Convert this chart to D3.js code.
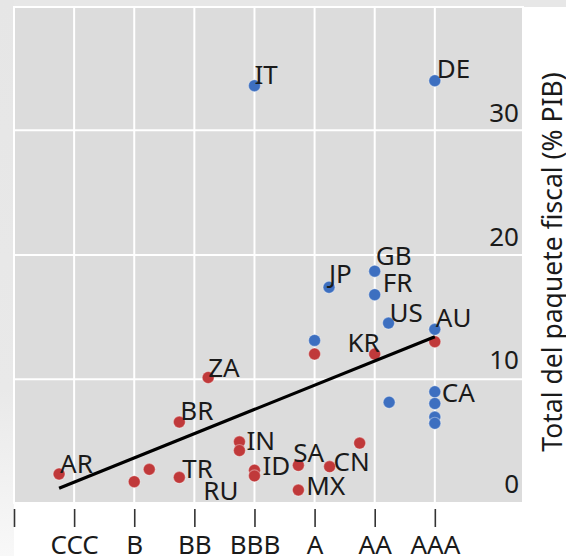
<!DOCTYPE html>
<html>
<head>
<meta charset="utf-8">
<script src="https://cdn.jsdelivr.net/npm/d3@7"></script>
<style>
  body { margin: 0; background: #fff; }
  svg { display: block; }
</style>
</head>
<body>
<svg id="chart"></svg>
<script>
// rating categories (index 0 is the unlabelled tick at the panel edge)
const ratings = ['', 'CCC', 'B', 'BB', 'BBB', 'A', 'AA', 'AAA'];
const yTicks = [0, 10, 20, 30];
const yGrid = [9.35, 19.4, 29.5];

// advanced economies (blue)
const advCodes  = ['IT', 'DE', 'JP', 'GB', 'FR', 'US', 'AU', '', '', 'CA', '', '', ''];
const advRating = [4.0, 7.0, 5.24, 6.0, 6.0, 6.23, 7.0, 5.0, 6.24, 7.0, 7.0, 7.0, 7.0];
const advFiscal = [33.1, 33.5, 16.8, 18.1, 16.2, 13.9, 13.4, 12.5, 7.5, 8.35, 7.4, 6.3, 5.8];

// emerging economies (red)
const emCodes  = ['AR', '', '', 'TR', 'BR', 'ZA', '', 'IN', 'ID', 'RU', 'SA', 'MX', 'CN', '', '', 'KR', ''];
const emRating = [0.75, 2.0, 2.25, 2.75, 2.75, 3.23, 3.75, 3.75, 4.0, 4.0, 4.73, 4.73, 5.25, 5.75, 5.0, 6.0, 7.0];
const emFiscal = [1.7, 1.08, 2.08, 1.43, 5.9, 9.5, 4.3, 3.6, 2.0, 1.55, 2.4, 0.4, 2.3, 4.2, 11.4, 11.4, 12.4];

// fitted line end points (rating, % PIB)
const fitRating = [0.75, 7.0];
const fitFiscal = [0.55, 12.8];

// label placement tweaks in px: [dx, dy, anchor]
const nudge = {
  IT: [0, -2], DE: [2, -3], JP: [0, -4], GB: [1, -6], FR: [8, -3], US: [1, -1],
  AU: [1, -2], CA: [7, 10], AR: [1, -1], TR: [3, 1], BR: [1, -2], ZA: [0, -1],
  IN: [7, 0], ID: [8, 5], RU: [-16, 24, 'end'], SA: [-5, -3], MX: [8, 5],
  CN: [4, 4], KR: [5, -2, 'end']
};

const W = 566, H = 556;
const P = { left: 14, top: 7, right: 523, bottom: 503 };
const BLUE = '#3d6fc0', RED = '#c0393a', INK = '#1a1a1a';
const FONT = '"Noto Sans", "Open Sans", sans-serif';

const svg = d3.select('#chart').attr('width', W).attr('height', H);

const x = d3.scaleLinear().domain([0, 8.5]).range([14, 525]);
const y = d3.scaleLinear().domain([0, 30]).range([495, 124]);

// outer backdrop
const defs = svg.append('defs');
const grad = defs.append('linearGradient').attr('id', 'fade').attr('x1', 0).attr('y1', 0).attr('x2', 0).attr('y2', 1);
grad.append('stop').attr('offset', '0%').attr('stop-color', '#e6e6e6');
grad.append('stop').attr('offset', '70%').attr('stop-color', '#e9e9e9');
grad.append('stop').attr('offset', '100%').attr('stop-color', '#f8f8f8');
svg.append('rect').attr('x', 0).attr('y', 0).attr('width', W).attr('height', P.top).attr('fill', '#e7e7e7');
svg.append('rect').attr('x', 0).attr('y', 0).attr('width', P.left).attr('height', H).attr('fill', 'url(#fade)');

// panel
svg.append('rect').attr('x', P.left).attr('y', P.top)
  .attr('width', P.right - P.left).attr('height', P.bottom - P.top)
  .attr('fill', '#dcdcdc').attr('stroke', '#fff').attr('stroke-width', 2);

const grid = svg.append('g').attr('stroke', '#fff').attr('stroke-width', 2);
grid.selectAll('line.v').data(d3.range(1, ratings.length)).join('line').attr('class', 'v')
  .attr('x1', d => x(d)).attr('x2', d => x(d)).attr('y1', P.top).attr('y2', P.bottom);
grid.selectAll('line.h').data(yGrid).join('line').attr('class', 'h')
  .attr('x1', P.left).attr('x2', P.right).attr('y1', d => y(d)).attr('y2', d => y(d));

// y tick labels sit inside the panel, right-aligned
svg.append('g').selectAll('text').data(yTicks).join('text')
  .attr('x', 519).attr('y', d => y(d) - 2).attr('text-anchor', 'end')
  .attr('font-family', FONT).attr('font-size', 26).attr('fill', INK).text(d => d);

// x axis
const xAxis = svg.append('g').attr('transform', `translate(0,${P.bottom})`)
  .call(d3.axisBottom(x).tickValues(d3.range(ratings.length)).tickFormat(i => ratings[i]).tickSize(0).tickPadding(33));
xAxis.select('.domain').remove();
xAxis.selectAll('text').attr('font-family', FONT).attr('font-size', 26).attr('fill', INK);
xAxis.selectAll('.tick').append('line').attr('y1', 6).attr('y2', 24)
  .attr('stroke', '#333').attr('stroke-width', 1.6);

// y title
svg.append('text').attr('transform', `translate(562,262) rotate(-90)`)
  .attr('text-anchor', 'middle').attr('font-family', FONT).attr('font-size', 26.5).attr('fill', INK)
  .text('Total del paquete fiscal (% PIB)');

const adv = advCodes.map((c, i) => ({ code: c, r: advRating[i], v: advFiscal[i], col: BLUE }));
const em = emCodes.map((c, i) => ({ code: c, r: emRating[i], v: emFiscal[i], col: RED }));
const all = em.concat(adv);

svg.append('g').selectAll('circle').data(all).join('circle')
  .attr('cx', d => x(d.r)).attr('cy', d => y(d.v)).attr('r', 6)
  .attr('fill', d => d.col).attr('stroke', 'rgba(255,255,255,.35)').attr('stroke-width', 1.2);

svg.append('path')
  .datum(fitRating.map((r, i) => [r, fitFiscal[i]]))
  .attr('d', d3.line().x(d => x(d[0])).y(d => y(d[1])))
  .attr('fill', 'none').attr('stroke', '#000').attr('stroke-width', 3.2);

svg.append('g').selectAll('text').data(all.filter(d => d.code)).join('text')
  .attr('x', d => x(d.r) + (nudge[d.code] || [0, 0])[0])
  .attr('y', d => y(d.v) + (nudge[d.code] || [0, 0])[1])
  .attr('text-anchor', d => (nudge[d.code] || [])[2] || 'start')
  .attr('font-family', FONT).attr('font-size', 26).attr('fill', INK)
  .text(d => d.code);
</script>
</body>
</html>
